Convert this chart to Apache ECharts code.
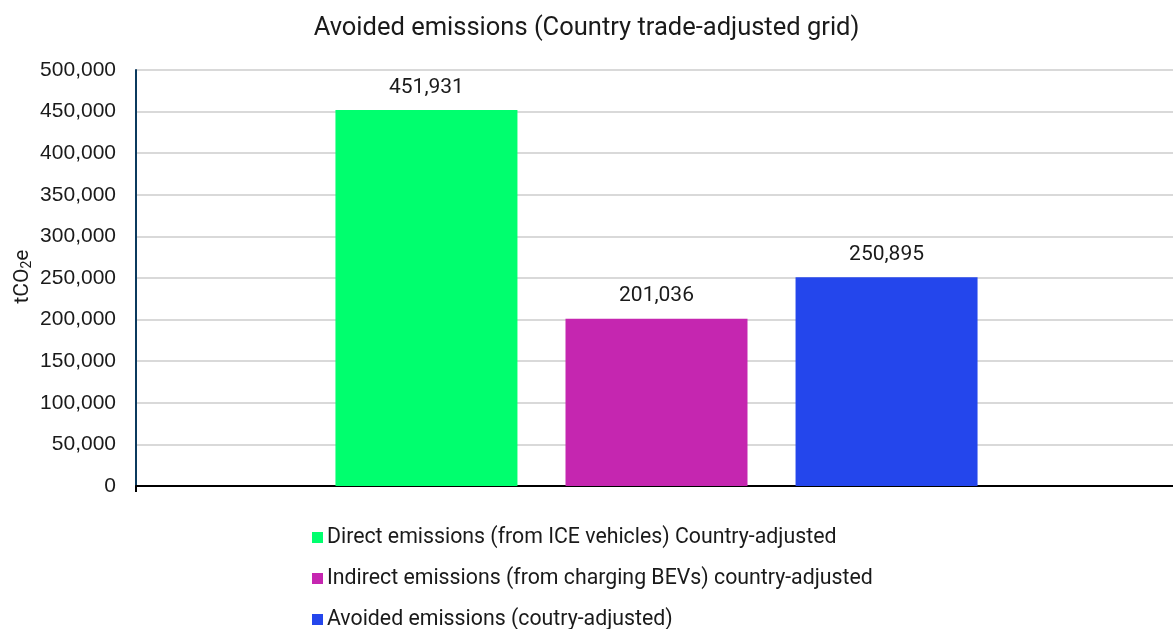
<!DOCTYPE html>
<html>
<head>
<meta charset="utf-8">
<script src="https://cdn.jsdelivr.net/npm/echarts@6/dist/echarts.min.js"></script>
<style>
  html, body { margin: 0; padding: 0; background: #fff; }
  #chart { width: 1173px; height: 629px; }
</style>
</head>
<body>
<div id="chart"></div>
<script>
// Avoided emissions, tCO2e
const categories = ['Country trade-adjusted grid'];
const seriesNames = [
  'Direct emissions (from ICE vehicles) Country-adjusted',
  'Indirect emissions (from charging BEVs) country-adjusted',
  'Avoided emissions (coutry-adjusted)'
];
const directValues = [451931];
const indirectValues = [201036];
const avoidedValues = [250895];
const seriesColors = ['#00ff6e', '#c526b0', '#2446ec'];
const yMin = 0, yMax = 500000, yStep = 50000;

const seriesData = [directValues, indirectValues, avoidedValues];

const chart = echarts.init(document.getElementById('chart'), null, { renderer: 'canvas' });

const fmt = v => v.toLocaleString('en-US');

chart.setOption({
  animation: false,
  backgroundColor: '#ffffff',
  title: {
    text: 'Avoided emissions (Country trade-adjusted grid)',
    left: 'center',
    top: 11,
    textStyle: { fontFamily: 'Roboto', fontSize: 25.5, fontWeight: 'normal', color: '#1a1a1a' }
  },
  legend: {
    orient: 'vertical',
    left: 312,
    top: 527,
    height: 110,
    padding: 0,
    itemWidth: 11,
    itemHeight: 11,
    itemGap: 20,
    icon: 'rect',
    textStyle: { fontFamily: 'Roboto', fontSize: 21.3, color: '#1a1a1a', lineHeight: 21, padding: [0, 0, 0, -1] },
    data: seriesNames
  },
  grid: {
    left: 136, right: -4, top: 70, bottom: 143,
    containLabel: false,
    outerBoundsMode: 'none'
  },
  xAxis: {
    type: 'category',
    data: categories,
    axisLine: { show: true, lineStyle: { color: '#000000', width: 2 } },
    axisTick: { show: true, length: 6, lineStyle: { color: '#000000', width: 2 } },
    axisLabel: { show: false }
  },
  yAxis: {
    type: 'value',
    min: yMin,
    max: yMax,
    interval: yStep,
    name: 'tCO{sub|2}e',
    nameLocation: 'middle',
    nameMoveOverlap: false,
    nameGap: 102,
    nameRotate: 90,
    nameTextStyle: {
      fontFamily: 'Roboto',
      fontSize: 21,
      color: '#1a1a1a',
      padding: [0, 0, 0, 3],
      rich: {
        sub: { fontFamily: 'Roboto', fontSize: 14, color: '#1a1a1a', verticalAlign: 'bottom', padding: [9, 0, 0, 0] }
      }
    },
    axisLine: { show: true, lineStyle: { color: '#0b3a5e', width: 2 } },
    axisTick: { show: false },
    axisLabel: {
      fontFamily: 'Liberation Sans',
      fontSize: 21,
      color: '#1a1a1a',
      margin: 20,
      formatter: v => fmt(v)
    },
    splitLine: { show: true, lineStyle: { color: '#d9d9d9', width: 2 } }
  },
  series: seriesNames.map((name, i) => ({
    name,
    type: 'bar',
    data: seriesData[i],
    barWidth: 182,
    barGap: '26.4%',
    itemStyle: { color: seriesColors[i] },
    label: {
      show: true,
      position: 'top',
      distance: 12,
      fontFamily: 'Roboto',
      fontSize: 21,
      color: '#1a1a1a',
      formatter: p => fmt(p.value)
    }
  }))
});
</script>
</body>
</html>
